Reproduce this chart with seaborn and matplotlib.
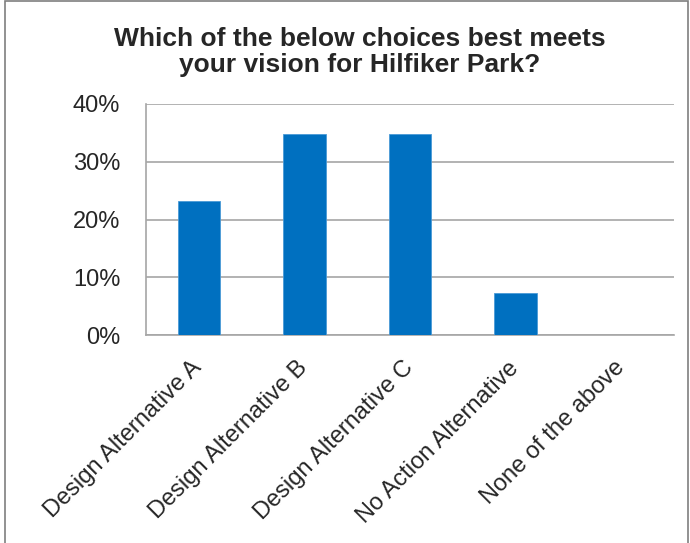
import matplotlib
matplotlib.use("Agg")
import matplotlib.pyplot as plt
import seaborn as sns
import numpy as np
from matplotlib.patches import Rectangle
from matplotlib.ticker import PercentFormatter, FixedLocator
from matplotlib.transforms import ScaledTranslation

# survey responses (share of respondents, %)
choices = ["Design Alternative A", "Design Alternative B", "Design Alternative C",
           "No Action Alternative", "None of the above"]
shares = [23.2, 34.8, 34.8, 7.2, 0.0]

sns.set_style("white")
plt.rcParams['font.family'] = ['Liberation Sans', 'DejaVu Sans']

fig = plt.figure(figsize=(6.9, 5.43), dpi=100)
ax = fig.add_axes([146 / 690, 1 - 335 / 543, (674 - 146) / 690, (335 - 104) / 543])

sns.barplot(x=choices, y=shares, color="#0070C0", width=0.4, saturation=1,
            edgecolor="#4a9ad6", linewidth=0.6, ax=ax, zorder=3)

ax.set_ylim(0, 40)
ax.set_xlim(-0.5, len(choices) - 0.5)
ax.yaxis.set_major_locator(FixedLocator([0, 10, 20, 30, 40]))
ax.yaxis.set_major_formatter(PercentFormatter(decimals=0))
ax.grid(axis='y', color='#a6a6a6', linewidth=1.2, zorder=0)
ax.set_axisbelow(True)

for side in ["top", "right"]:
    ax.spines[side].set_visible(False)
for side in ["left", "bottom"]:
    ax.spines[side].set_color('#a6a6a6')
    ax.spines[side].set_linewidth(1.2)

# tick marks between categories
ax.set_xticks(np.arange(-0.5, len(choices)), minor=True)
ax.tick_params(axis='x', which='minor', length=6, width=1.2, color='#a6a6a6', direction='out')
ax.tick_params(axis='x', which='major', length=0, pad=10)
ax.tick_params(axis='y', length=8, width=1.2, color='#a6a6a6', direction='out', pad=10.5,
               labelsize=17)
ax.set_xticks(range(len(choices)))
ax.set_xticklabels(choices, rotation=45, ha='right', rotation_mode='anchor', fontsize=17)
shift = ScaledTranslation(-0.08, -0.08, fig.dpi_scale_trans)
for lbl in ax.get_xticklabels():
    lbl.set_transform(lbl.get_transform() + shift)
ax.set_xlabel("")
ax.set_ylabel("")

fig.text(360 / 690, 1 - 52 / 543,
         "Which of the below choices best meets\nyour vision for Hilfiker Park?",
         ha='center', va='center', fontsize=19, fontweight='bold', linespacing=1.15)

# chart frame
fig.patches.append(Rectangle((5 / 690, -0.1), (688 - 5) / 690, 1.1 - 1.5 / 543,
                             transform=fig.transFigure, fill=False,
                             edgecolor='#7f7f7f', linewidth=1.2))

fig.savefig("out.png", dpi=100)
